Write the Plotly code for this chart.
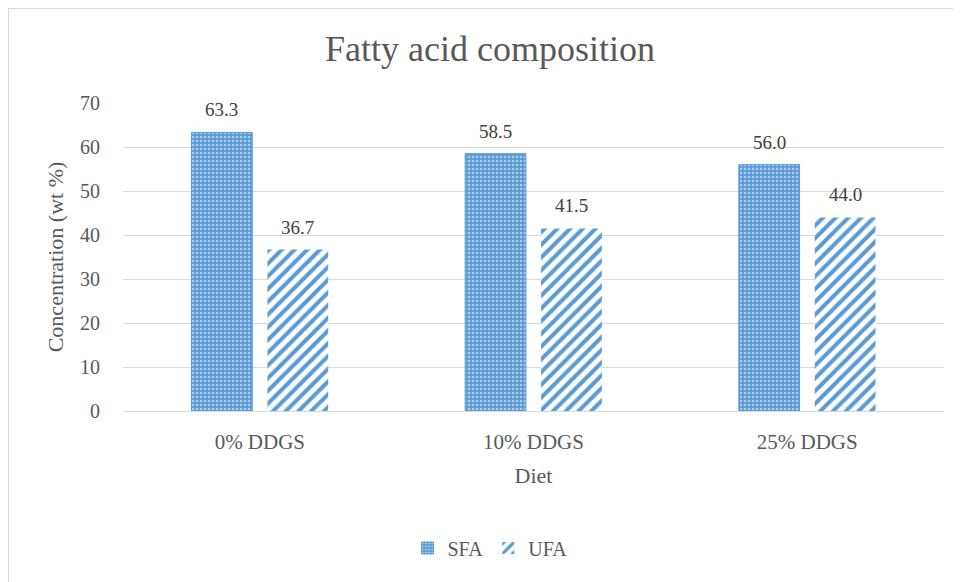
import plotly.graph_objects as go

categories = ["0% DDGS", "10% DDGS", "25% DDGS"]
sfa_values = [63.3, 58.5, 56.0]
ufa_values = [36.7, 41.5, 44.0]
y_ticks = [0, 10, 20, 30, 40, 50, 60, 70]

BLUE = "#5B9BD5"
FONT = "Liberation Serif"
GRAY = "#595959"
OFF = 8  # page body margin offset

fig = go.Figure()
fig.add_trace(go.Bar(
    name="SFA", x=categories, y=sfa_values,
    marker=dict(color=BLUE, line=dict(width=1, color=BLUE),
                pattern=dict(shape=".", fgcolor="white", bgcolor=BLUE,
                             size=4, solidity=0.35, fillmode="overlay")),
))
fig.add_trace(go.Bar(
    name="UFA", x=categories, y=ufa_values,
    marker=dict(color=BLUE, line=dict(width=0),
                pattern=dict(shape="/", fgcolor=BLUE, bgcolor="white",
                             size=9, solidity=0.45, fillmode="replace")),
))

# value labels above each bar
for vals, shift in ((sfa_values, -38), (ufa_values, 38)):
    for c, v in zip(categories, vals):
        fig.add_annotation(x=c, y=v, text=f"{v:.1f}", showarrow=False,
                           xshift=shift, yshift=10, yanchor="bottom",
                           font=dict(family=FONT, size=19, color="#404040"))

# chart border (partially outside the visible window)
W, H = 961, 582
L, R, T, B = 123 - OFF, 25, 103 - OFF, 179
pw, ph = W - L - R, H - T - B
fig.add_shape(type="rect", xref="paper", yref="paper",
              x0=(0 - L) / pw, x1=(W + 20 - L) / pw,
              y0=-(H + 20 - T - ph) / ph, y1=(T + ph - 0) / ph,
              line=dict(color="#D9D9D9", width=2), layer="below")

fig.update_layout(
    width=W, height=H,
    margin=dict(l=L, r=R, t=T, b=B, autoexpand=False),
    paper_bgcolor="white", plot_bgcolor="white",
    barmode="group", bargap=0.445, bargroupgap=0.2,
    title=dict(text="Fatty acid composition", xref="container", x=(490 - OFF) / W,
               xanchor="center", yref="container", y=1 - (48 - OFF) / H, yanchor="middle",
               font=dict(family=FONT, size=36, color=GRAY)),
    font=dict(family=FONT, color=GRAY),
    showlegend=True,
    legend=dict(orientation="h", xref="container", x=(490 - OFF) / W, xanchor="center",
                yref="container", y=1 - (548 - OFF) / H, yanchor="middle",
                font=dict(family=FONT, size=20, color=GRAY),
                itemwidth=30, traceorder="normal"),
)
fig.update_yaxes(range=[0, 70], tickvals=y_ticks, showgrid=True, gridcolor="#D9D9D9",
                 gridwidth=1, zeroline=True, zerolinecolor="#D9D9D9", zerolinewidth=1,
                 showline=False, ticks="outside", ticklen=18, tickcolor="rgba(0,0,0,0)",
                 tickfont=dict(family=FONT, size=20, color=GRAY),
                 title=dict(text="Concentration (wt %)", standoff=10,
                            font=dict(family=FONT, size=22, color=GRAY)))
fig.update_xaxes(showline=False, ticks="outside", ticklen=12, tickcolor="rgba(0,0,0,0)",
                 tickfont=dict(family=FONT, size=21, color=GRAY),
                 title=dict(text="Diet", standoff=14,
                            font=dict(family=FONT, size=22, color=GRAY)))

fig.write_html("out.html")
